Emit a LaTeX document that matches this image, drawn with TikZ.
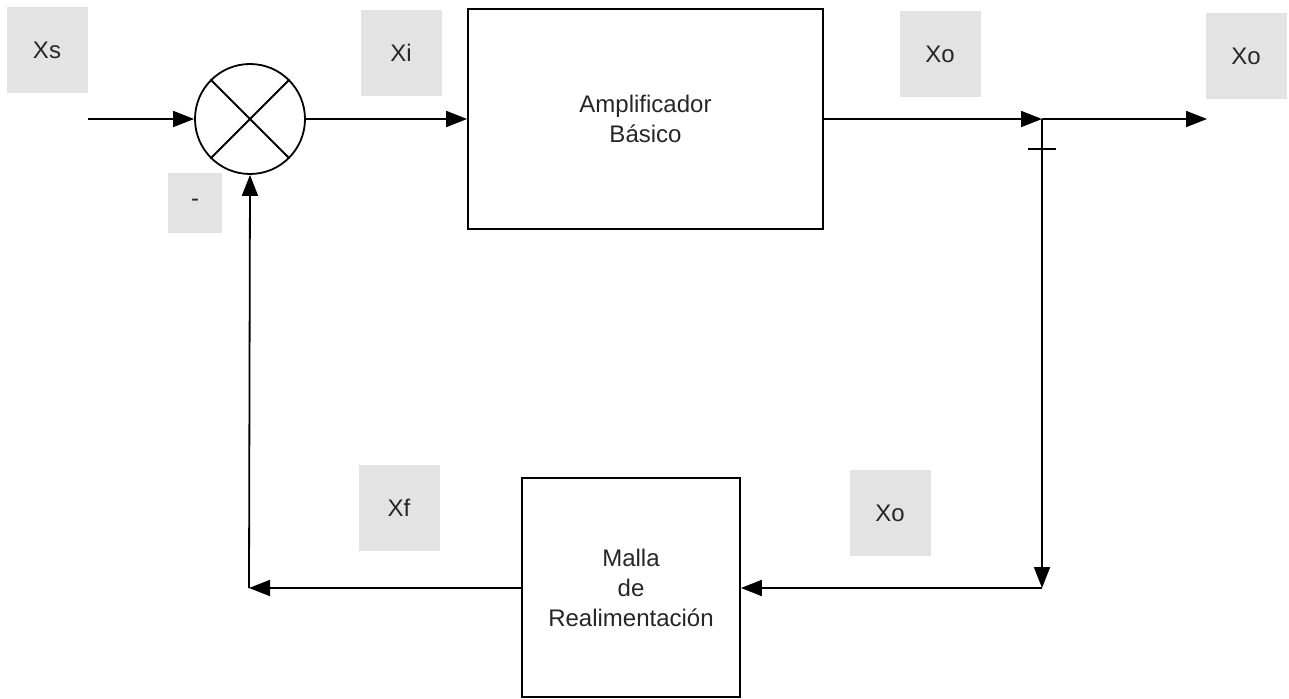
\documentclass[tikz,border=0pt]{standalone}
\usepackage{fontspec}
\setmainfont{Liberation Sans}
\usetikzlibrary{arrows.meta}
\begin{document}
\begin{tikzpicture}[x=1pt,y=-1pt,
  every node/.style={font=\fontsize{24}{30}\selectfont, text=black!85},
  lbl/.style={fill=black!11, minimum width=81pt, minimum height=86pt, inner sep=0pt},
  blk/.style={draw, line width=1.8pt, align=center, inner sep=0pt},
  conn/.style={line width=1.8pt, -{Triangle[length=21pt,width=16pt]}},
  plain/.style={line width=1.8pt}]
\useasboundingbox (0,0) rectangle (1289,698);
% label patches
\node[lbl] (lxs) at (47,50) {Xs};
\node[lbl] (lxi) at (401,53) {Xi};
\node[lbl] (lxo1) at (940,54) {Xo};
\node[lbl] (lxo2) at (1246,56) {Xo};
\node[lbl] (lxf) at (399,508) {Xf};
\node[lbl] (lxo3) at (890,513) {Xo};
\node[lbl, minimum width=54pt, minimum height=60pt] (lminus) at (195,203) {-};
% blocks
\node[blk, minimum width=355pt, minimum height=220pt] (amp) at (645.5,119) {Amplificador\\Básico};
\node[blk, minimum width=218pt, minimum height=219pt] (fb) at (631,587.5) {Malla\\de\\Realimentación};
\node[draw, circle, line width=1.8pt, minimum size=110pt, inner sep=0pt] (sum) at (250,119) {};
\draw[plain] (sum.north west) -- (sum.south east);
\draw[plain] (sum.north east) -- (sum.south west);
% coordinates
\coordinate (in) at (88,119);
\coordinate (j) at (1042,119);
\coordinate (out) at (1207,119);
\coordinate (c1) at (1042,588);
\coordinate (c2) at (249,588);
\coordinate (t1) at (1028,149);
\coordinate (t2) at (1056,149);
% connectors
\draw[conn] (in) -- (sum.west);
\draw[conn] (sum.east) -- (amp.west);
\draw[conn] (amp.east) -- (j);
\draw[conn] (j) -- (out);
\draw[conn] (j) -- (c1);
\draw[plain] (t1) -- (t2);
\draw[conn] (c1) -- (fb.east |- c1);
\draw[conn] (fb.west |- c2) -- (c2);
\draw[conn] (c2) -- (sum.south);
\end{tikzpicture}
\end{document}
